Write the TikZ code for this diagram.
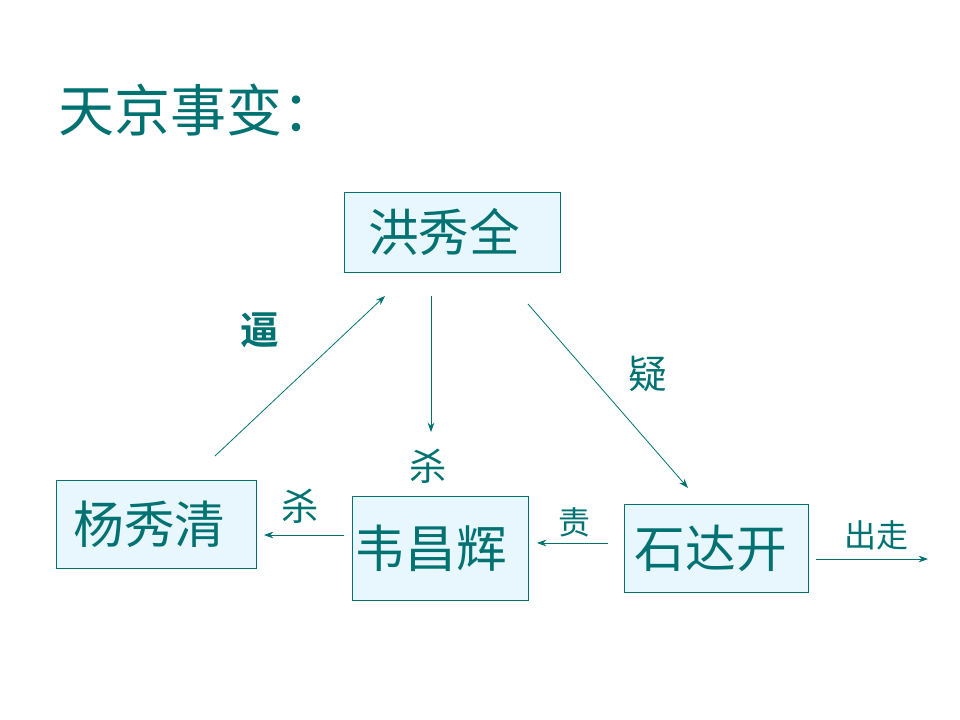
\documentclass[tikz,border=0pt]{standalone}
\usepackage{fontspec}
\setmainfont{Noto Sans CJK SC}
\newfontfamily\cjkbold{Noto Sans CJK SC}[BoldFont={* Bold}]
\usetikzlibrary{arrows.meta}
\definecolor{teal1}{RGB}{0,114,114}
\definecolor{boxfill}{RGB}{232,246,253}
\tikzset{
  person/.style={draw=teal1, fill=boxfill, line width=0.6pt, inner sep=0pt, text=teal1, font=\fontsize{38}{42}\selectfont},
  rel/.style={draw=teal1, line width=0.6pt, -{Stealth[length=7pt,width=5pt]}},
  lbl/.style={text=teal1, inner sep=0pt},
}
\begin{document}
\begin{tikzpicture}[x=0.75pt,y=-0.75pt]
\useasboundingbox (0,0) rectangle (960,720);
\fill[white] (0,0) rectangle (960,720);
\node[lbl, anchor=west, font=\fontsize{42}{46}\selectfont] (title) at (58,110) {天京事变：};

\node[person, minimum width=162pt, minimum height=60pt] (hong) at (452,232) {\hspace*{-12pt}洪秀全};
\node[person, minimum width=150pt, minimum height=66pt] (yang) at (156,524) {\hspace*{-10pt}杨秀清};
\node[person, minimum width=132pt, minimum height=78pt, text width=128pt, align=left] (wei) at (440,548) {\raisebox{-3pt}{韦昌辉}};
\node[person, minimum width=138pt, minimum height=66pt] (shi) at (716,548) {\hspace*{-8pt}石达开};

\coordinate (a1s) at (215,456); \coordinate (a1e) at (385,296);
\coordinate (a2s) at (431,296); \coordinate (a2e) at (431,432);
\coordinate (a3s) at (528,304); \coordinate (a3e) at (688,488);
\coordinate (a4s) at (344,535); \coordinate (a4e) at (264,535);
\coordinate (a5s) at (608,543); \coordinate (a5e) at (537,543);
\coordinate (a6s) at (816,559); \coordinate (a6e) at (928,559);

\draw[rel] (a1s) -- (a1e);
\draw[rel] (a2s) -- (a2e);
\draw[rel] (a3s) -- (a3e);
\draw[rel] (a4s) -- (a4e);
\draw[rel] (a5s) -- (a5e);
\draw[rel] (a6s) -- (a6e);

\node[lbl, font=\cjkbold\bfseries\fontsize{29}{30}\selectfont] (l1) at (260,330) {逼};
\node[lbl, font=\fontsize{28}{30}\selectfont] (l2) at (428,466) {杀};
\node[lbl, font=\fontsize{29}{30}\selectfont] (l3) at (648,374) {疑};
\node[lbl, font=\fontsize{28}{30}\selectfont] (l4) at (300,506) {杀};
\node[lbl, font=\fontsize{24}{26}\selectfont] (l5) at (574,522) {责};
\node[lbl, font=\fontsize{24}{26}\selectfont] (l6) at (876,535) {出走};
\end{tikzpicture}
\end{document}
